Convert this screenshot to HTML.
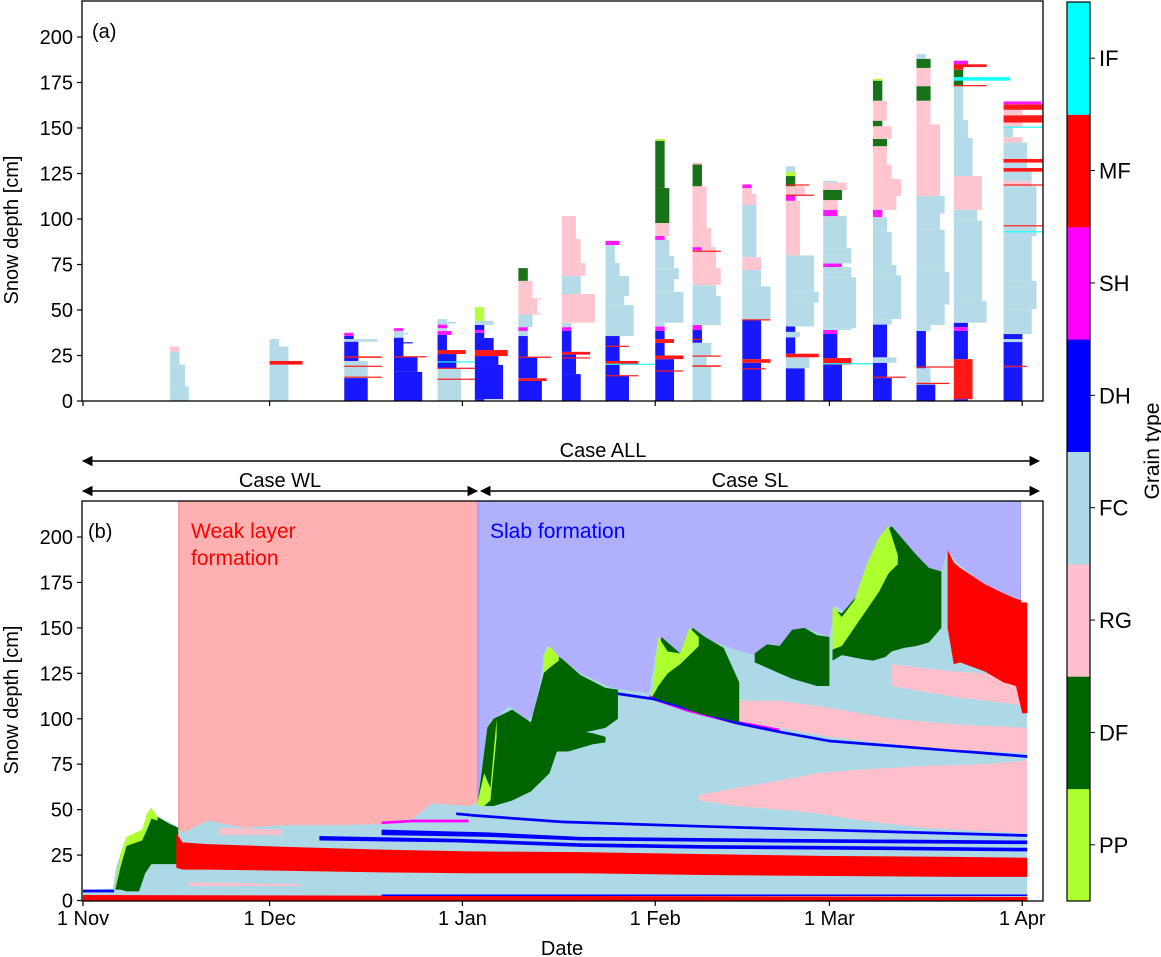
<!DOCTYPE html>
<html><head><meta charset="utf-8"><style>
body{margin:0;background:#fff}
svg{display:block;font-family:"Liberation Sans","DejaVu Sans",sans-serif}
</style></head><body>
<svg id="fig" width="1161" height="957" viewBox="0 0 1161 957" xmlns="http://www.w3.org/2000/svg">
<defs>
<clipPath id="clipA"><rect x="82" y="1" width="961" height="400"/></clipPath>
<clipPath id="clipB"><rect x="82" y="501" width="961" height="400"/></clipPath>
<marker id="arr" viewBox="0 0 10 10" refX="9" refY="5" markerWidth="7" markerHeight="7" orient="auto-start-reverse"><path d="M0,0 L10,5 L0,10 z" fill="#000"/></marker>
</defs>
<g id="panelA"></g>
<g id="panelB"></g>
<g id="annot"></g>
<g id="cbar"></g>
</svg>
<script>
// ---------- data ----------
const grainTypes = ["PP","DF","RG","FC","DH","SH","MF","IF"];
const grainColors = {PP:"#adff2f",DF:"#006400",RG:"#ffc0cb",FC:"#add8e6",DH:"#0000ff",SH:"#ff00ff",MF:"#ff0000",IF:"#00ffff"};
const dateTicks = ["1 Nov","1 Dec","1 Jan","1 Feb","1 Mar","1 Apr"];
const dateTickDays = [0,30,61,92,120,151];
const depthTicks = [0,25,50,75,100,125,150,175,200];

const profileDays = [14,30,42,50,57,63,70,77,84,92,98,106,113,119,127,134,140,148];
const profileLayers = [
 [[8,"FC",4],[20,"FC",3.2],[27,"FC",2],[30,"RG",2]],
 [[30,"FC",4],[34,"FC",2]],
 [[12.6,"DH",5],[22,"FC",5],[32.6,"DH",3],[34,"FC",7],[35.8,"DH",2],[37.5,"SH",2]],
 [[16,"DH",6],[24.3,"DH",5],[34.8,"DH",2],[38.5,"FC",2],[40,"SH",2]],
 [[18,"FC",5],[25.8,"DH",4],[28,"MF",6],[36.3,"DH",2],[38.5,"SH",3],[40,"FC",2],[42,"SH",2],[45,"FC",2]],
 [[1,"DH",2],[19.8,"DH",6],[24.7,"DH",5],[28,"MF",7],[34.6,"DH",4],[37.5,"DH",2],[39,"SH",2],[41.8,"DH",2],[44,"FC",4],[51.6,"PP",2]],
 [[11,"DH",5],[12.5,"MF",6],[24,"DH",4],[35.7,"DH",2],[38.5,"FC",2],[40.6,"SH",2],[48,"FC",3],[56,"RG",4],[66,"RG",3],[73,"DF",2]],
 [[14.8,"DH",4],[23.6,"DH",3],[25.5,"DH",3],[27,"MF",6],[38.5,"DH",2],[40.6,"SH",2],[43,"FC",2],[58.8,"RG",7],[68.7,"FC",4],[75.8,"RG",5],[89,"RG",4],[101.6,"RG",3]],
 [[14,"DH",5],[19.8,"DH",3],[22,"MF",7],[35.7,"DH",3],[39,"FC",6],[52.7,"FC",6],[57.7,"FC",4],[68.7,"FC",5],[75.8,"FC",3],[85.7,"FC",2],[88,"SH",3]],
 [[16.5,"DH",4],[23,"DH",4],[25,"MF",6],[31.9,"DH",2],[34,"MF",4],[38.5,"DH",2],[41,"SH",2],[43,"FC",2],[60,"FC",6],[67,"FC",4],[73,"FC",5],[79.7,"FC",4],[88.5,"FC",3],[90.7,"SH",2],[97.8,"RG",3],[117,"DF",3],[143,"DF",2],[144,"PP",2]],
 [[19.2,"FC",4],[24.7,"FC",3],[32,"FC",4],[39,"DH",2],[41.8,"SH",2],[57.7,"FC",6],[63.7,"FC",5],[73,"RG",6],[84.6,"RG",5],[95,"RG",4],[118,"RG",3],[130,"DF",2],[131,"RG",2]],
 [[17.6,"DH",4],[21,"DH",4],[23,"MF",6],[44.5,"DH",4],[63,"FC",6],[72,"FC",4],[79,"RG",4],[107.7,"FC",3],[113.7,"RG",3],[117,"RG",2],[119,"SH",2]],
 [[18,"DH",4],[24,"FC",5],[26,"MF",7],[35,"DH",2],[38,"FC",3],[41,"DH",2],[54,"FC",6],[60,"FC",7],[80,"FC",6],[110,"RG",3],[113,"SH",2],[118,"RG",4],[123.6,"DF",2],[126,"PP",2],[129,"FC",2]],
 [[20,"DH",4],[23.6,"MF",6],[36.8,"DH",3],[39,"SH",3],[40,"FC",6],[68,"FC",7],[73.6,"FC",6],[75.6,"SH",4],[84,"FC",6],[101.6,"FC",5],[105,"SH",3],[110.4,"RG",3],[116,"DF",4],[120,"RG",5],[121,"FC",3]],
 [[12.6,"DH",4],[21,"DH",3],[24,"FC",5],[42,"DH",3],[45,"FC",4],[69,"FC",6],[74.7,"FC",5],[93,"FC",4],[101,"FC",3],[105,"SH",2],[112.6,"RG",5],[122,"RG",6],[129.7,"RG",4],[140,"RG",3],[144,"DF",3],[151,"RG",4],[154,"DF",2],[165,"RG",3],[176,"DF",2],[177,"PP",2]],
 [[9,"DH",4],[18,"FC",3],[38.5,"DH",2],[41.8,"FC",3],[53,"FC",6],[71,"FC",7],[94,"FC",6],[103,"FC",5],[112.6,"FC",6],[134.6,"RG",5],[152,"RG",5],[165,"RG",3],[173,"DF",3],[183,"RG",3],[188,"DF",3],[190.6,"FC",2]],
 [[1,"DH",3],[23,"MF",4],[38.5,"DH",3],[40.6,"SH",3],[43,"DH",3],[55,"FC",7],[75,"FC",6],[99,"FC",6],[105,"FC",5],[123.6,"RG",6],[144.5,"FC",4],[154.4,"FC",3],[173,"FC",2],[178,"DF",2],[182,"DF",2],[184,"MF",2],[187,"SH",3]],
 [[18.6,"DH",4],[32.4,"DH",4],[34,"FC",4],[36.8,"DH",4],[50.5,"FC",6],[66,"FC",7],[90.6,"FC",6],[118,"FC",7],[121,"RG",6],[126,"FC",6],[128,"MF",8.5],[131,"FC",5],[133,"MF",8.5],[142,"FC",5],[145,"RG",4],[150.5,"FC",2],[153,"RG",4],[157,"MF",8.5],[160,"RG",4],[163,"MF",8.5],[164.6,"SH",8]]
];
const profileThin = [
 [],
 [[20,22,"MF",7]],
 [[23.7,24.5,"MF",8],[18.8,19.4,"MF",8],[12.8,13.4,"MF",8]],
 [[24,24.6,"MF",7],[31.8,32.3,"DH",4],[36.5,37.2,"FC",3]],
 [[42.5,43.5,"FC",4],[21.2,21.8,"IF",12],[17.8,18.3,"MF",10],[11.8,12.3,"MF",9]],
 [],
 [[23.7,24.4,"MF",7],[47.6,48.2,"RG",5],[56,56.5,"RG",5]],
 [[23.4,24,"MF",6]],
 [[29.8,30.4,"MF",5],[20,20.5,"IF",10.5],[13.6,14.2,"MF",7]],
 [[16.2,16.8,"MF",6]],
 [[18.8,19.6,"MF",6],[24.4,25,"MF",6],[33.5,34.2,"MF",2],[82,82.6,"MF",6],[82.8,84.5,"SH",2]],
 [[17.4,18,"MF",5],[44.3,44.9,"MF",6]],
 [[112.8,113.4,"MF",6],[118.4,119,"MF",5]],
 [[20.3,20.8,"IF",10.6]],
 [[12.8,13.4,"MF",7]],
 [[9.3,10,"MF",7],[18.4,19,"MF",9]],
 [[173,173.6,"MF",7],[176,178,"IF",12],[183.5,185,"MF",7]],
 [[18.8,19.4,"MF",5],[92.8,93.3,"IF",8.5],[96,96.6,"MF",8.5],[118.4,119,"MF",8.5],[150.3,150.8,"IF",8.5],[102,102.4,"FC",7]]
];

const hsDays = [0,4.8,5.3,6,7,10,11,12,15,16,20,26,32,40,48,53,56,62,63.5,65.5,66.5,68.5,71.5,72.5,74.5,76.5,80,85,91,92.5,94.5,96.5,98,99.5,104,109,110,112,114,116,120,121,123.5,126.5,129,130,131.5,136,138,139,140.5,144,147.5,151.8];
const hsValues = [5.8,6.5,18,25,35,39,50,46,41,37,44,40,41.5,41.5,42,45,53.5,52,54,99,101,107,99,103,140,134,125,117,114,145,137,136,150,145,139,134,141.6,139.6,149,150,145,162.6,156,187,203,206.6,198,183,181,193,186,176,169,164];

const bandDays = [];const bandBottom = [];const bandTop = [];const bandTypes = [];
function band(t,d,b,tp){bandTypes.push(t);bandDays.push(d);bandBottom.push(b);bandTop.push(tp);}
band("MF",[0,151.8],[0,0],[3,2]);
band("DH",[0,5],[4.5,4.5],[6,6]);
band("DH",[48,151.8],[2.5,2.5],[3.3,3.3]);
band("DF",[5.2,6,7,9,10,11,12,14,15.3],[6,6,5,5,15,20,20,20,20],[7,25,35,37,39,50,46,42,40]);
band("PP",[5.2,6,7,9.5,10.3,11,12],[6,18,30,33,39,45,44],[7,25,35,39,48,51,46]);
band("MF",[15,16,20,32,48,62,80,100,120,140,151.8],[18,17,17,16.4,15.5,15,15,14,13.5,13,13],[37,32,31,29.6,28,27,26.6,25.5,24.5,24,23.5]);
band("RG",[17,35],[8,8],[10,9]);
band("RG",[22,32],[36,36],[40,39]);
band("DH",[38,60,80,100,120,151.8],[33,32,29.5,28.5,28,27],[35.5,34,31.5,30.5,30,29]);
band("DH",[48,65,80,110,151.8],[36,35,33,32,31],[39,37.5,35,34,33]);
band("SH",[48,53,62],[42,43,43],[43.5,44.5,44.5]);
band("DH",[60,63,77,100,120,151.8],[47,46,42.5,40,38,35],[48.5,47.5,44,41.5,39.5,36.5]);
band("RG",[99,105,112,118,125,135,145,151.8],[55,52,50,48,44,40,38,37],[58,62,66,70,72,74,75,77]);
band("DF",[63.5,65,66,69,72,75,77,80,84,86],[52,52,52,55,60,70,90,92,95,100],[55,95,100,105,98,137,133,124,117,116]);
band("PP",[63.5,64.5,65.5,66.5],[52,52,55,90],[55,70,62,100]);
band("PP",[74,75,76.5],[125,128,132],[135,140,134]);
band("DF",[75,78,82,84],[82,82,86,87],[92,94,92,90]);
band("SH",[91,97,105,112],[111,104,97,92.5],[113,106,99,94.5]);
band("DH",[86,92,105,112,120,135,151.8],[113,110,97,92,87,83,78.5],[114.5,111.5,98.5,93.5,88.5,84.5,80]);
band("RG",[105,112,120,130,140,151.8],[99,95,90,86,83,81],[110,110,106,100,97,95]);
band("DF",[91.5,93,96,98,100,103,105.5],[112,110,107,104,102,100,98],[114,145,136,150,145,139,120]);
band("PP",[91.5,92.5,94,96,97.5,99],[112,118,125,130,135,140],[114,145,137,136,150,145]);
band("DF",[108,110,112,114,116,118,120],[131,128,125,122,120,118,118],[136,141,140,149,150,146,145]);
band("RG",[130,135,140,145,151.8],[118,115,112,110,107],[130,128,126,125,122]);
band("DF",[120.5,122,125,127,129,130,132,134,136,138],[132,135,133,132,134,137,139,140,142,150],[160,158,170,187,203,206,198,190,183,181]);
band("PP",[120.5,122,124,126,128,129.5,131],[138,140,150,160,170,180,185],[162,156,165,185,200,206,190]);
band("MF",[139,140,141,145,148,150,151,151.8],[150,130,131,126,120,118,103,103],[193,186,183,174,169,166,165,164]);

// ---------- scales ----------
const xd = d => 83 + d*6.22;
const yA = c => 401 - c*1.82;
const yB = c => 900.5 - c*1.8175;
const hw = h => h*4.7;
const NS="http://www.w3.org/2000/svg";
function mk(tag,attrs,parent){const e=document.createElementNS(NS,tag);for(const k in attrs)e.setAttribute(k,attrs[k]);parent.appendChild(e);return e;}

// ---------- panel A ----------
const A=document.getElementById('panelA');
mk('rect',{x:82,y:1,width:961,height:400,fill:'#fff'},A);
const gA=mk('g',{'clip-path':'url(#clipA)',opacity:0.9},A);
profileDays.forEach((d,i)=>{
  const g=mk('g',{},gA);
  
  
  let bot=0;const x0=xd(d);
  profileLayers[i].forEach(L=>{
    const r=mk('rect',{x:x0,y:yA(L[0]),width:hw(L[2]),height:Math.max(0.5,yA(bot)-yA(L[0])),fill:grainColors[L[1]]},g);
    
    
    bot=L[0];
  });
  profileThin[i].forEach(L=>{
    const r=mk('rect',{x:x0,y:yA(L[1]),width:hw(L[3]),height:Math.max(1.2,yA(L[0])-yA(L[1])),fill:grainColors[L[2]]},g);
    
    
  });
});
mk('rect',{x:82,y:1,width:961,height:400,fill:'none',stroke:'#000','stroke-width':1.3},A);

// ---------- panel B ----------
const B=document.getElementById('panelB');
mk('rect',{x:82,y:501,width:961,height:400,fill:'#fff'},B);
const wl=mk('rect',{x:xd(15.4),y:501,width:xd(63.5)-xd(15.4),height:400,fill:'#ffb0b0',stroke:'#f08a8a','stroke-width':1},B);


const sl=mk('rect',{x:xd(63.5),y:501,width:xd(150.8)-xd(63.5),height:400,fill:'#b0b0ff',stroke:'#8f8ff0','stroke-width':1},B);


const gB=mk('g',{'clip-path':'url(#clipB)'},B);
function areaPath(days,bot,top){
  let p='M'+xd(days[0])+','+yB(bot[0]);
  for(let i=0;i<days.length;i++)p+=' L'+xd(days[i])+','+yB(top[i]);
  for(let i=days.length-1;i>=0;i--)p+=' L'+xd(days[i])+','+yB(bot[i]);
  return p+'Z';
}
const base=mk('path',{d:areaPath(hsDays,hsDays.map(()=>0),hsValues),fill:grainColors.FC},gB);


bandDays.forEach((d,i)=>{
  const p=mk('path',{d:areaPath(d,bandBottom[i],bandTop[i]),fill:grainColors[bandTypes[i]]},gB);
  
  
});
mk('rect',{x:xd(152),y:501,width:1043-xd(152),height:400,fill:'#fff'},gB);
mk('rect',{x:xd(150.8),y:501,width:1043-xd(150.8),height:yB(164)-501,fill:'#fff'},gB);
mk('rect',{x:82,y:501,width:961,height:400,fill:'none',stroke:'#000','stroke-width':1.3},B);

// ---------- axes ----------
[A,B].forEach((P,pi)=>{
  const yf=pi===0?yA:yB; const yb=pi===0?401:901;
  depthTicks.forEach(t=>{
    mk('line',{x1:77,x2:82,y1:yf(t),y2:yf(t),stroke:'#000','stroke-width':1.2},P);
    const tx=mk('text',{x:73,y:yf(t)+7,'text-anchor':'end','font-size':20},P);
    tx.textContent=t;
    
    
  });
  dateTickDays.forEach((d,i)=>{
    mk('line',{x1:xd(d),x2:xd(d),y1:yb,y2:yb+5,stroke:'#000','stroke-width':1.2},P);
    if(pi===1){
      const tx=mk('text',{x:xd(d),y:925,'text-anchor':'middle','font-size':20},P);
      tx.textContent=dateTicks[i];
      
      
    }
  });
});
</script>
<script>
const N2="http://www.w3.org/2000/svg";
const an=document.getElementById('annot');
function t(x,y,s,txt,attrs,name){const e=document.createElementNS(N2,'text');e.setAttribute('x',x);e.setAttribute('y',y);e.setAttribute('font-size',s);for(const k in attrs)e.setAttribute(k,attrs[k]);e.textContent=txt;


an.appendChild(e);return e;}
t(92,38,20,"(a)",{},"panel-a-label");
t(88,538,20,"(b)",{},"panel-b-label");
t(191,538,21,"Weak layer",{fill:'#ff0000'},"weak-layer-title");
t(191,565,21,"formation",{fill:'#ff0000'},"weak-layer-title-2");
t(490,538,21,"Slab formation",{fill:'#0000ff'},"slab-formation-title");
t(18,230,20,"Snow depth [cm]",{transform:'rotate(-90 18 230)','text-anchor':'middle'},"y-axis-title-a");
t(18,700,20,"Snow depth [cm]",{transform:'rotate(-90 18 700)','text-anchor':'middle'},"y-axis-title-b");
t(562,955,20,"Date",{'text-anchor':'middle'},"x-axis-title");
t(603,457,20,"Case ALL",{'text-anchor':'middle'},"case-all-label");
t(280,487,20,"Case WL",{'text-anchor':'middle'},"case-wl-label");
t(750,487,20,"Case SL",{'text-anchor':'middle'},"case-sl-label");
function arrow(x1,x2,y,name){const l=document.createElementNS(N2,'line');
l.setAttribute('x1',x1);l.setAttribute('x2',x2);l.setAttribute('y1',y);l.setAttribute('y2',y);
l.setAttribute('stroke','#000');l.setAttribute('stroke-width',1.5);
l.setAttribute('marker-start','url(#arr)');l.setAttribute('marker-end','url(#arr)');


an.appendChild(l);}
arrow(83,1039,461,"case-all-arrow");
arrow(83,477,491,"case-wl-arrow");
arrow(481,1039,491,"case-sl-arrow");
// colorbar
const cb=document.getElementById('cbar');
const cbNames=["PP","DF","RG","FC","DH","SH","MF","IF"];
const cbCols=["#adff2f","#006400","#ffc0cb","#add8e6","#0000ff","#ff00ff","#ff0000","#00ffff"];
const cbX=1067, cbW=23;
const segH=(901-2)/8;
cbNames.forEach((n,i)=>{
  const y=901-(i+1)*segH;
  const r=document.createElementNS(N2,'rect');
  r.setAttribute('x',cbX);r.setAttribute('y',y);r.setAttribute('width',cbW);r.setAttribute('height',segH+0.5);r.setAttribute('fill',cbCols[i]);
  
  
  cb.appendChild(r);
  const tk=document.createElementNS(N2,'line');
  tk.setAttribute('x1',cbX+cbW);tk.setAttribute('x2',cbX+cbW+5);tk.setAttribute('y1',y+segH/2);tk.setAttribute('y2',y+segH/2);tk.setAttribute('stroke','#000');
  cb.appendChild(tk);
  const tx=document.createElementNS(N2,'text');
  tx.setAttribute('x',cbX+cbW+9);tx.setAttribute('y',y+segH/2+8);tx.setAttribute('font-size',22);tx.textContent=n;
  
  
  cb.appendChild(tx);
});
const fr=document.createElementNS(N2,'rect');
fr.setAttribute('x',cbX);fr.setAttribute('y',2);fr.setAttribute('width',cbW);fr.setAttribute('height',899);fr.setAttribute('fill','none');fr.setAttribute('stroke','#000');fr.setAttribute('stroke-width',1.2);
cb.appendChild(fr);
const gt=document.createElementNS(N2,'text');
gt.setAttribute('x',1159);gt.setAttribute('y',451);gt.setAttribute('font-size',21);gt.setAttribute('text-anchor','middle');
gt.setAttribute('transform','rotate(-90 1159 451)');gt.textContent="Grain type";


cb.appendChild(gt);
</script>
</body></html>
